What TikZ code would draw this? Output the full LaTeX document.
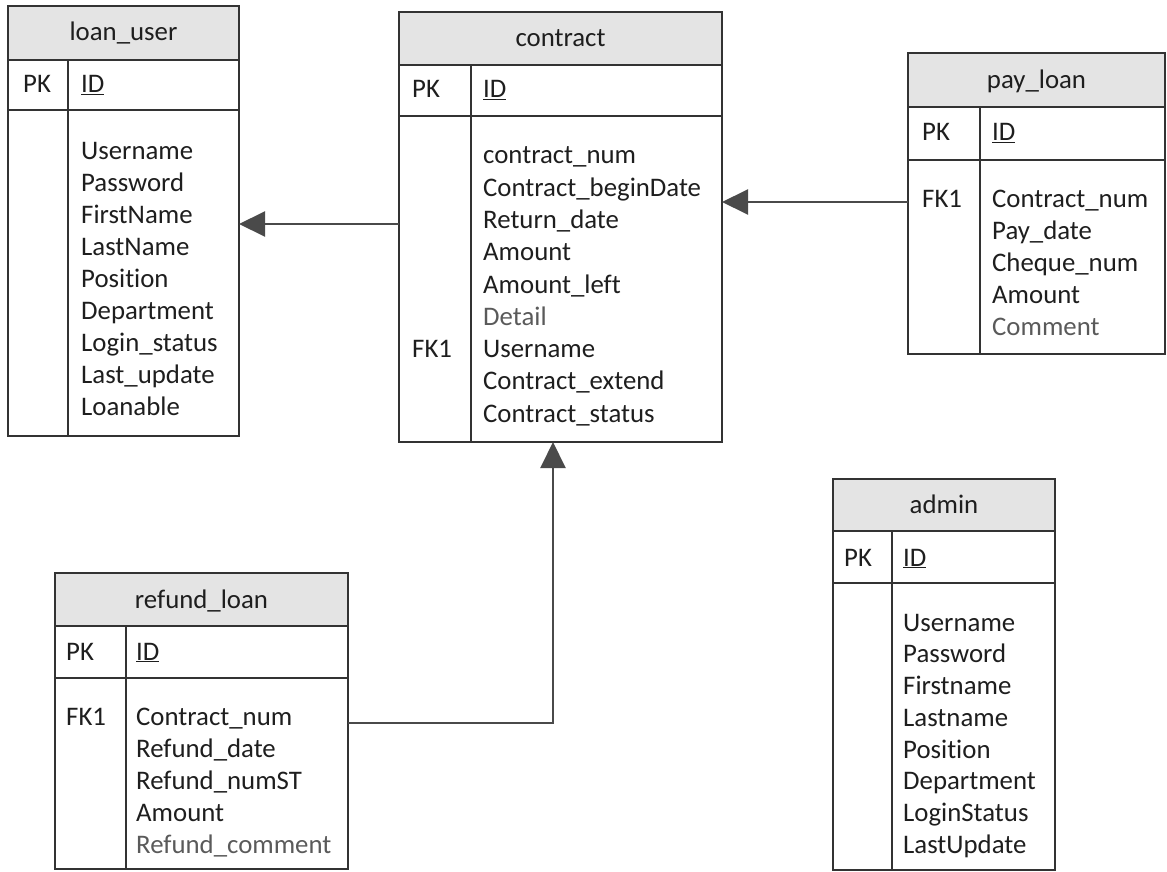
\documentclass[tikz,border=0pt]{standalone}
\usepackage{fontspec}
\setmainfont{Carlito}[Ligatures=NoCommon]
\usetikzlibrary{arrows.meta,positioning}
\definecolor{linegray}{HTML}{333333}
\definecolor{headgray}{HTML}{E4E4E4}
\definecolor{textgray}{HTML}{1E1E1E}
\definecolor{softgray}{HTML}{5A5A5A}
\definecolor{arrowgray}{HTML}{4A4A4A}
\newcommand{\tabfont}{\fontsize{26.8}{32}\selectfont}

\begin{document}
\begin{tikzpicture}[x=1pt,y=-1pt]
    \tikzstyle{tabbox}=[draw=linegray, line width=1.5pt, inner sep=0pt, outer sep=0pt, anchor=north west]
    \tikzstyle{tabhead}=[tabbox, fill=headgray]
    \tikzstyle{tabline}=[draw=linegray, line width=1.5pt]
    \tikzstyle{tabtitle}=[anchor=base, inner sep=0pt, font=\tabfont, text=textgray]
    \tikzstyle{keytxt}=[anchor=base west, inner sep=0pt, font=\tabfont, text=textgray]
    \tikzstyle{fieldtxt}=[keytxt]
    \tikzstyle{fklink}=[draw=arrowgray, line width=2pt, -{Triangle[length=26pt,width=25pt]}]
    \useasboundingbox (0,0) rectangle (1167,872);

    % loan_user
    \node[tabbox, minimum width=231pt, minimum height=430pt] (loanuser) at (8,6) {};
    \node[tabhead, minimum width=231pt, minimum height=54pt] (loanuser-head) at (8,6) {};
    \node[tabbox, minimum width=231pt, minimum height=50pt, below=0pt of loanuser-head] (loanuser-pk) {};
    \draw[tabline] (68,60) -- (68,436);
    \node[tabtitle] (loanuser-title) at (123.5,41) {loan\_user};
    \node[keytxt] (loanuser-key) at (23,93) {PK};
    \node[keytxt] (loanuser-id) at (81,93) {\underline{ID}};
    \foreach \f [count=\i] in {Username,Password,FirstName,LastName,Position,Department,Login\_status,Last\_update,Loanable}
        \node[fieldtxt] (loanuser-f\i) at (81,127+32*\i) {\f};

    % contract
    \node[tabbox, minimum width=323pt, minimum height=430pt] (contract) at (399,12) {};
    \node[tabhead, minimum width=323pt, minimum height=53pt] (contract-head) at (399,12) {};
    \node[tabbox, minimum width=323pt, minimum height=51pt, below=0pt of contract-head] (contract-pk) {};
    \draw[tabline] (471,65) -- (471,442);
    \node[tabtitle] (contract-title) at (560.5,47) {contract};
    \node[keytxt] (contract-key) at (412,98) {PK};
    \node[keytxt] (contract-id) at (483,98) {\underline{ID}};
    \node[keytxt] (contract-fk) at (412,357.5) {FK1};
    \foreach \f [count=\i] in {contract\_num,Contract\_beginDate,Return\_date,Amount,Amount\_left,{\color{softgray}Detail},Username,Contract\_extend,Contract\_status}
        \node[fieldtxt] (contract-f\i) at (483,131.75+32.25*\i) {\f};

    % pay_loan
    \node[tabbox, minimum width=257pt, minimum height=301pt] (payloan) at (908,53) {};
    \node[tabhead, minimum width=257pt, minimum height=54pt] (payloan-head) at (908,53) {};
    \node[tabbox, minimum width=257pt, minimum height=53pt, below=0pt of payloan-head] (payloan-pk) {};
    \draw[tabline] (980,107) -- (980,354);
    \node[tabtitle] (payloan-title) at (1036.5,89) {pay\_loan};
    \node[keytxt] (payloan-key) at (922,141) {PK};
    \node[keytxt] (payloan-id) at (992,141) {\underline{ID}};
    \node[keytxt] (payloan-fk) at (922,207) {FK1};
    \foreach \f [count=\i] in {Contract\_num,Pay\_date,Cheque\_num,Amount,{\color{softgray}Comment}}
        \node[fieldtxt] (payloan-f\i) at (992,175+32*\i) {\f};

    % admin
    \node[tabbox, minimum width=222pt, minimum height=391pt] (admin) at (833,479) {};
    \node[tabhead, minimum width=222pt, minimum height=52pt] (admin-head) at (833,479) {};
    \node[tabbox, minimum width=222pt, minimum height=52pt, below=0pt of admin-head] (admin-pk) {};
    \draw[tabline] (892,531) -- (892,870);
    \node[tabtitle] (admin-title) at (944,513) {admin};
    \node[keytxt] (admin-key) at (844,566) {PK};
    \node[keytxt] (admin-id) at (903,566) {\underline{ID}};
    \foreach \f [count=\i] in {Username,Password,Firstname,Lastname,Position,Department,LoginStatus,LastUpdate}
        \node[fieldtxt] (admin-f\i) at (903,599.25+31.75*\i) {\f};

    % refund_loan
    \node[tabbox, minimum width=293pt, minimum height=296pt] (refund) at (55,573) {};
    \node[tabhead, minimum width=293pt, minimum height=53pt] (refund-head) at (55,573) {};
    \node[tabbox, minimum width=293pt, minimum height=52pt, below=0pt of refund-head] (refund-pk) {};
    \draw[tabline] (126,626) -- (126,869);
    \node[tabtitle] (refund-title) at (201.5,608) {refund\_loan};
    \node[keytxt] (refund-key) at (66,660) {PK};
    \node[keytxt] (refund-id) at (136,660) {\underline{ID}};
    \node[keytxt] (refund-fk) at (66,725) {FK1};
    \foreach \f [count=\i] in {Contract\_num,Refund\_date,Refund\_numST,Amount,{\color{softgray}Refund\_comment}}
        \node[fieldtxt] (refund-f\i) at (136,693+32*\i) {\f};

    % links
    \coordinate (pay-link) at (0,202);
    \draw[fklink] (payloan.west |- pay-link) -- (contract.east |- pay-link);
    \coordinate (user-link) at (0,224);
    \draw[fklink] (contract.west |- user-link) -- (loanuser.east |- user-link);
    \coordinate (refund-bend) at (553,723);
    \draw[fklink] (refund.east |- refund-bend) -- (refund-bend) -- (refund-bend |- contract.south);
\end{tikzpicture}
\end{document}
